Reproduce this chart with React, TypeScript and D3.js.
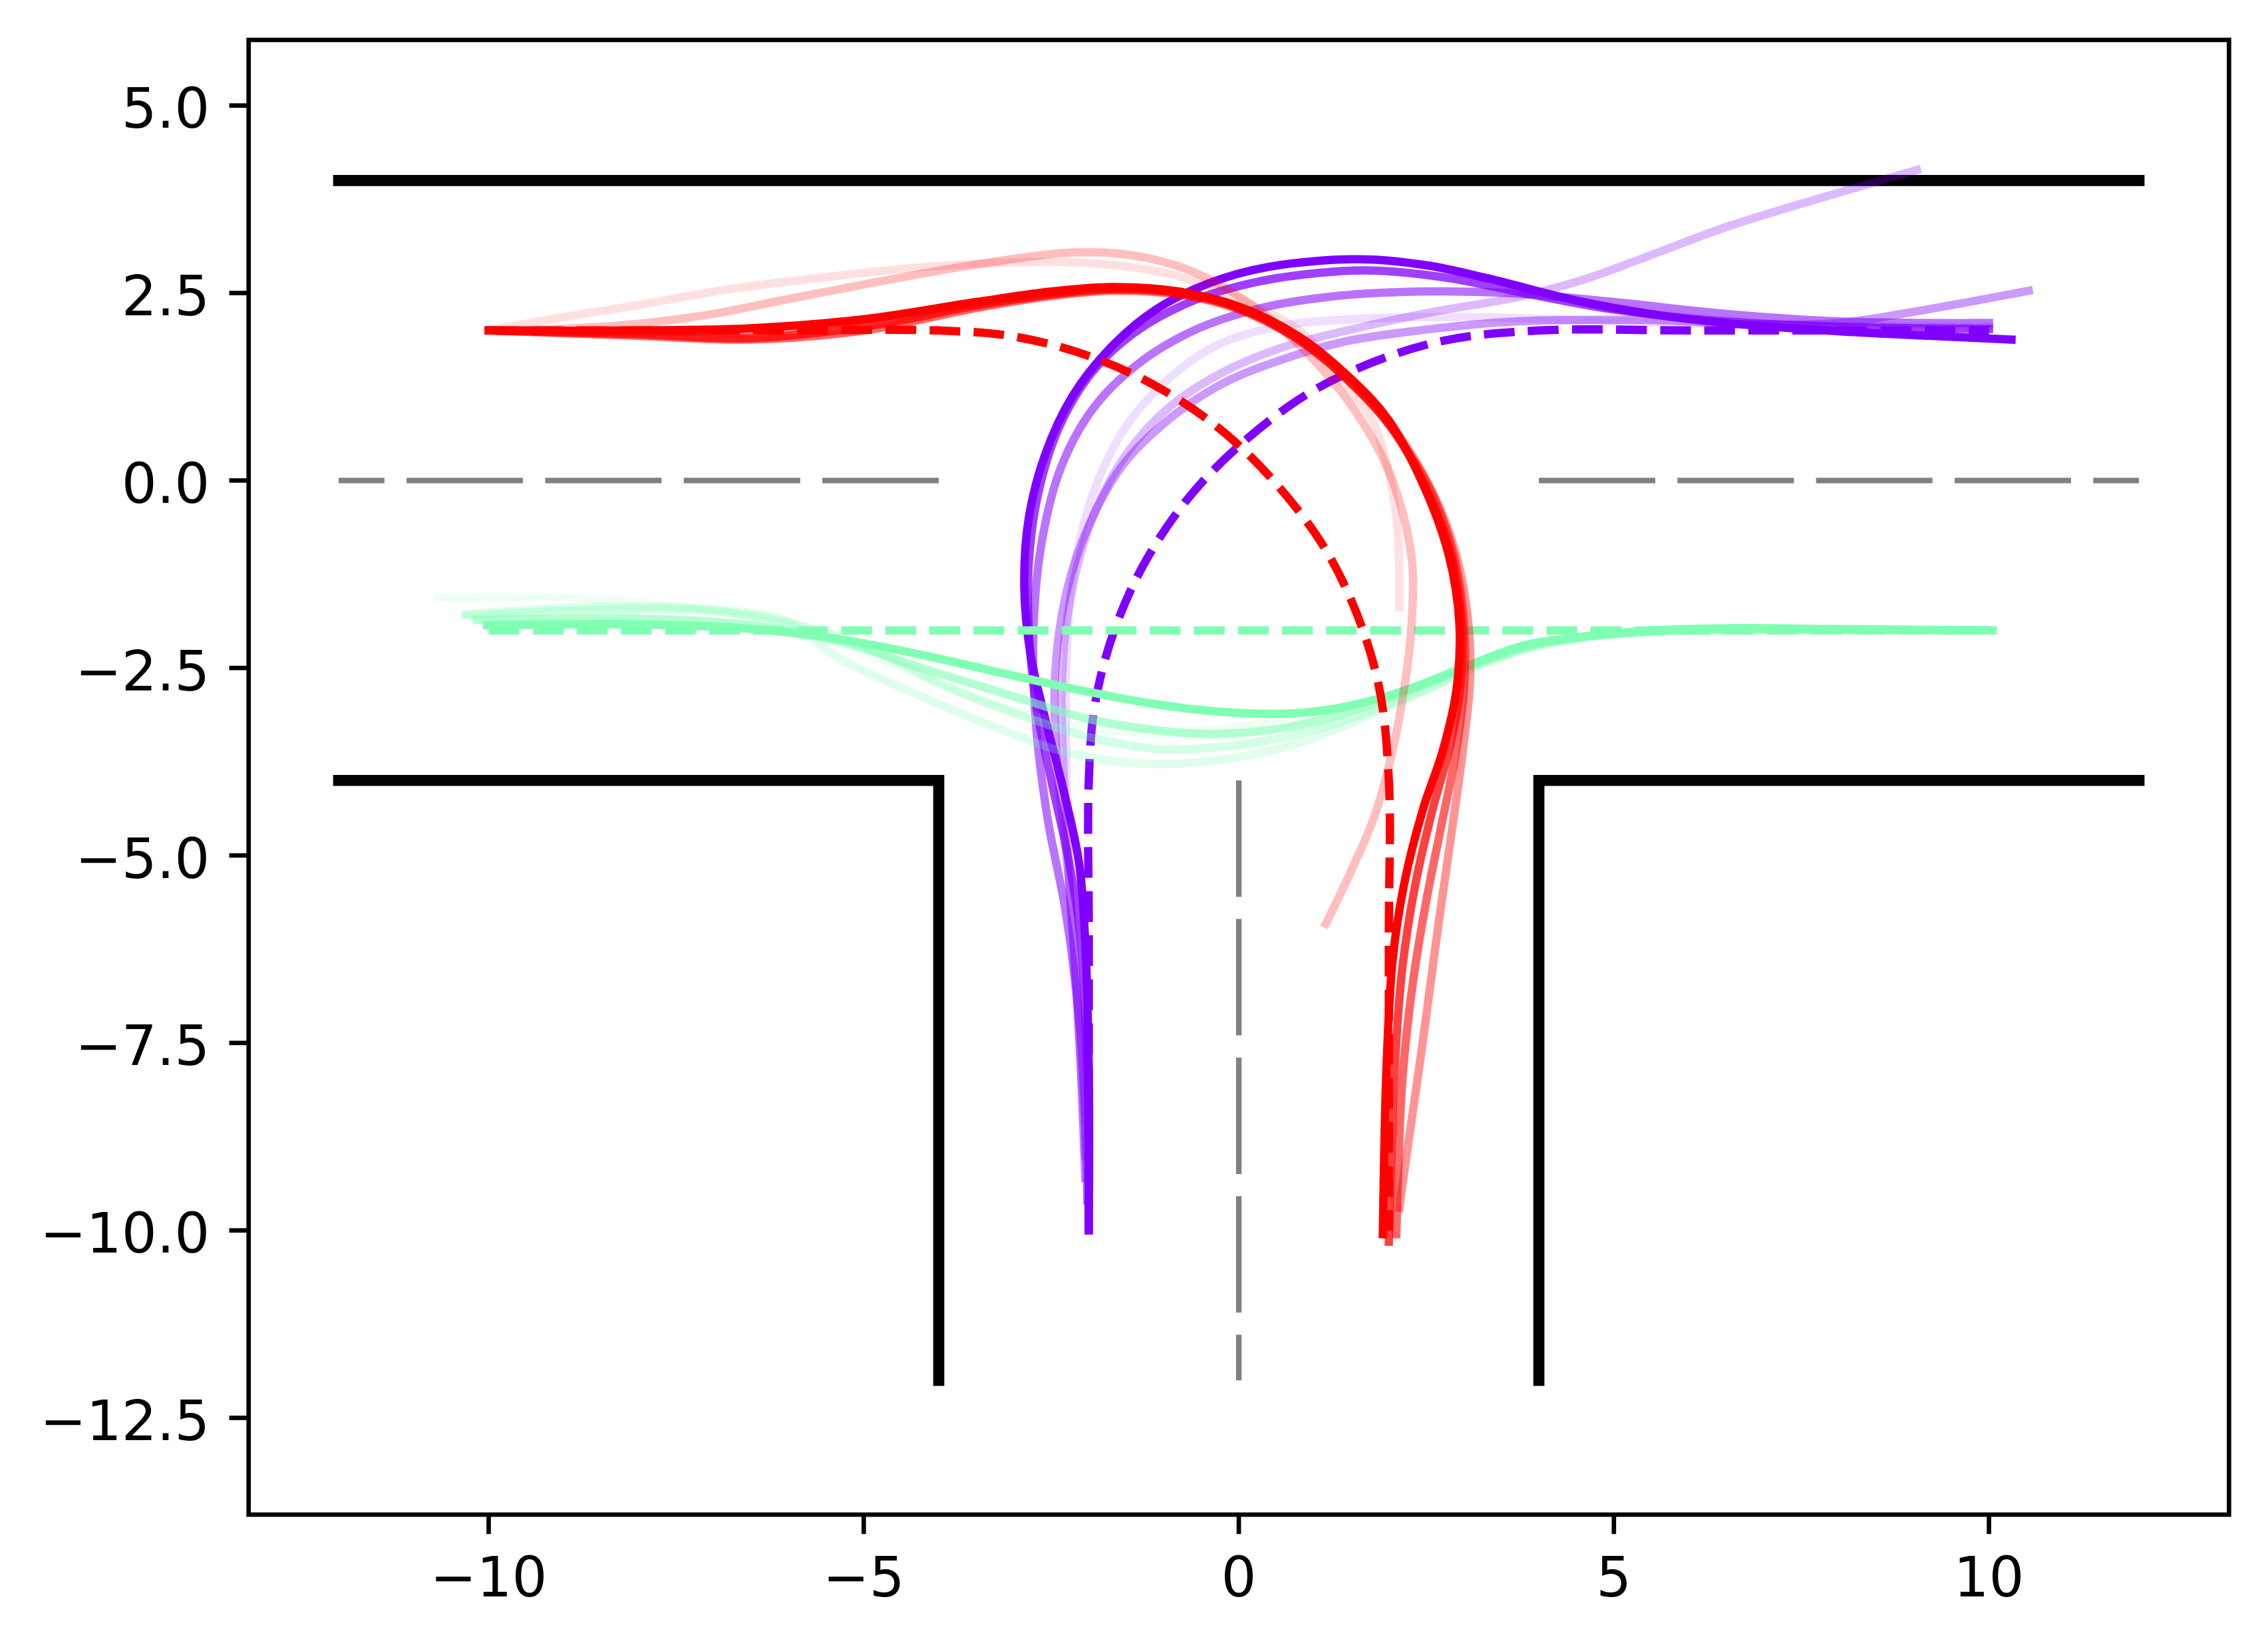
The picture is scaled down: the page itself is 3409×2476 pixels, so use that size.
import React from 'react'
import * as d3 from 'd3'

type Pt = [number, number]

// axis ticks
const xTicks = [-10, -5, 0, 5, 10]
const xTickLabels = ['−10', '−5', '0', '5', '10']
const yTicks = [5, 2.5, 0, -2.5, -5, -7.5, -10, -12.5]
const yTickLabels = ['5.0', '2.5', '0.0', '−2.5', '−5.0', '−7.5', '−10.0', '−12.5']

// road edges (T junction)
const walls: Pt[][] = [
  [[-12, 4], [12, 4]],
  [[-12, -4], [-4, -4], [-4, -12]],
  [[12, -4], [4, -4], [4, -12]],
]

// centre lines, drawn from the junction outwards
const centreLines: Pt[][] = [
  [[-4, 0], [-12, 0]],
  [[4, 0], [12, 0]],
  [[0, -4], [0, -12]],
]

// reference routes (dashed)
const purpleRef: Pt[] = [[-2, -10], [-2, -8], [-2, -6], [-2, -4], [-1.92, -3], [-1.66, -2], [-1.2, -1], [-0.47, 0], [0.68, 1], [1.6, 1.5], [2.71, 1.86], [4, 2], [6, 2], [8, 2], [10, 2]]
const greenRef: Pt[] = [[-10, -2], [10, -2]]
const redRef: Pt[] = [[-10, 2], [-8, 2], [-6, 2], [-4, 2], [-3, 1.92], [-2, 1.66], [-1, 1.2], [0, 0.47], [1, -0.68], [1.5, -1.6], [1.86, -2.71], [2, -4], [2, -6], [2, -8], [2, -10]]

// sampled trajectories, lightest first, executed one last
const purpleRuns: Pt[][] = [
  [[-2.05, -8.5], [-2.2, -6.5], [-2.28, -4.5], [-2.3, -2.5], [-2.2, -1.2], [-1.95, -0.2], [-1.55, 0.65], [-1.0, 1.3], [-0.3, 1.8], [0.5, 2.05], [1.5, 2.15], [3, 2.18], [5, 2.12], [7, 2.07], [10, 2.05]],
  [[-2.05, -9.0], [-2.15, -7], [-2.25, -5.5], [-2.33, -4], [-2.36, -2.7], [-2.25, -1.6], [-1.95, -0.5], [-1.5, 0.35], [-0.9, 1.0], [-0.2, 1.45], [0.6, 1.78], [1.57, 2.03], [2.6, 2.25], [3.69, 2.44], [4.6, 2.68], [5.4, 2.97], [6.5, 3.38], [7.8, 3.78], [9.04, 4.14]],
  [[-2.05, -9.3], [-2.12, -7.5], [-2.25, -5.5], [-2.42, -3.8], [-2.45, -2.6], [-2.3, -1.5], [-2.0, -0.6], [-1.55, 0.2], [-0.95, 0.8], [-0.2, 1.3], [0.6, 1.62], [1.4, 1.85], [2.4, 2.0], [3.69, 2.12], [5.39, 2.14], [7, 2.08], [8, 2.1], [9, 2.25], [10.53, 2.53]],
  [[-2.02, -9.6], [-2.1, -7.5], [-2.3, -5.8], [-2.55, -4.5], [-2.7, -3.3], [-2.74, -2.1], [-2.64, -0.9], [-2.38, 0.15], [-1.95, 0.95], [-1.35, 1.55], [-0.6, 2.0], [0.3, 2.3], [1.3, 2.46], [2.4, 2.52], [3.6, 2.5], [5, 2.38], [6.5, 2.22], [8, 2.12], [10, 2.1]],
  [[-2, -10], [-2.02, -7.8], [-2.12, -6], [-2.28, -5], [-2.5, -4], [-2.7, -3], [-2.8, -2], [-2.8, -1.1], [-2.68, -0.2], [-2.4, 0.7], [-1.95, 1.45], [-1.35, 2.0], [-0.6, 2.4], [0.3, 2.66], [1.2, 2.78], [1.8, 2.8], [2.8, 2.7], [3.8, 2.5], [5, 2.28], [6.5, 2.12], [8, 2.05], [10, 2.02]],
  [[-2, -10], [-2, -7.9], [-2.05, -6.1], [-2.13, -5.1], [-2.32, -4.2], [-2.6, -3.1], [-2.78, -2.3], [-2.86, -1.4], [-2.8, -0.5], [-2.58, 0.35], [-2.22, 1.12], [-1.72, 1.76], [-1.12, 2.27], [-0.4, 2.63], [0.4, 2.85], [1.6, 2.95], [2.5, 2.87], [3.3, 2.7], [4.5, 2.4], [5.5, 2.22], [6.5, 2.1], [8, 1.99], [9.2, 1.93], [10.3, 1.88]],
]

const greenRuns: Pt[][] = [
  [[-10.68, -1.56], [-9, -1.56], [-8.19, -1.61], [-6.49, -1.82], [-5.5, -2.1], [-4.5, -2.5], [-3.5, -2.9], [-2.5, -3.2], [-1.5, -3.35], [-0.5, -3.35], [0.5, -3.2], [1.5, -3.0], [2.5, -2.72], [3.3, -2.42], [4, -2.2], [5, -2.05], [6.5, -2.0], [8, -2.0], [10, -2.0]],
  [[-10.3, -1.78], [-8.5, -1.68], [-7, -1.72], [-6, -1.88], [-5.36, -2.35], [-4.23, -2.88], [-3.1, -3.35], [-2.2, -3.65], [-1.2, -3.78], [-0.2, -3.72], [0.8, -3.5], [1.7, -3.15], [2.5, -2.8], [3.3, -2.43], [4, -2.2], [5, -2.05], [6.5, -2.0], [8, -2.0], [10, -2.0]],
  [[-10.3, -1.8], [-8.5, -1.72], [-7, -1.74], [-6, -1.9], [-5.0, -2.2], [-4.0, -2.7], [-3.0, -3.1], [-2, -3.42], [-1.09, -3.58], [-0.2, -3.55], [0.8, -3.38], [1.7, -3.1], [2.5, -2.78], [3.3, -2.42], [4, -2.2], [4.8, -2.07], [6, -2.0], [8, -1.99], [10, -2.0]],
  [[-10.16, -1.86], [-8, -1.84], [-6.5, -1.93], [-5.3, -2.15], [-4.23, -2.5], [-3, -2.88], [-2, -3.18], [-1, -3.34], [-0.3, -3.38], [0.6, -3.3], [1.5, -3.08], [2.4, -2.75], [3.2, -2.43], [3.9, -2.2], [4.7, -2.07], [6, -1.99], [8, -1.99], [10, -2.0]],
  [[-10.02, -1.93], [-8, -1.92], [-6.5, -1.98], [-5.3, -2.12], [-4.2, -2.33], [-3.1, -2.58], [-2.1, -2.8], [-1, -3.0], [0, -3.1], [0.8, -3.1], [1.5, -3.0], [2.3, -2.77], [3.1, -2.45], [3.8, -2.2], [4.6, -2.08], [5.5, -2.0], [6.5, -1.97], [7.9, -1.98], [10.05, -2.0]],
]

const redRuns: Pt[][] = [
  [[-10, 2], [-9, 2.18], [-8, 2.34], [-6.8, 2.55], [-5.6, 2.7], [-4.4, 2.83], [-3.27, 2.9], [-2.0, 2.9], [-0.9, 2.75], [0, 2.42], [0.87, 1.95], [1.4, 1.3], [1.77, 0.82], [2.0, 0.1], [2.12, -0.7], [2.14, -1.69]],
  [[-10, 2], [-8.5, 2.05], [-7.2, 2.19], [-6, 2.42], [-4.86, 2.64], [-3.5, 2.88], [-2.2, 3.04], [-1.4, 3.0], [-0.6, 2.78], [0.2, 2.32], [1.1, 1.5], [1.7, 0.7], [2.05, 0.0], [2.3, -1.0], [2.31, -1.8], [2.23, -2.6], [2.05, -3.6], [1.8, -4.5], [1.5, -5.2], [1.16, -5.91]],
  [[-10, 2], [-8, 1.98], [-6.5, 2.0], [-5, 2.12], [-3.5, 2.36], [-2.5, 2.5], [-1.7, 2.56], [-0.8, 2.5], [0, 2.3], [0.8, 1.9], [1.5, 1.34], [2.05, 0.72], [2.58, -0.15], [2.9, -1.0], [3.06, -1.9], [3.08, -2.7], [3.0, -3.5], [2.85, -4.6], [2.65, -6.0], [2.45, -7.5], [2.25, -8.9], [2.14, -9.7]],
  [[-10, 2], [-8, 1.93], [-6.5, 1.88], [-5, 2.0], [-3.5, 2.3], [-2.5, 2.46], [-1.7, 2.53], [-0.8, 2.48], [0, 2.28], [0.8, 1.87], [1.5, 1.29], [2.02, 0.72], [2.55, -0.12], [2.86, -0.98], [3.0, -1.9], [3.0, -2.8], [2.88, -3.7], [2.7, -4.6], [2.5, -5.6], [2.32, -6.7], [2.18, -8], [2.1, -10.05]],
  [[-10, 2], [-8, 1.95], [-6.5, 1.9], [-5, 2.05], [-3.5, 2.33], [-2.5, 2.48], [-1.7, 2.55], [-0.8, 2.5], [0, 2.3], [0.8, 1.88], [1.5, 1.3], [2.0, 0.75], [2.52, -0.15], [2.83, -1.0], [2.97, -1.9], [2.95, -2.8], [2.8, -3.6], [2.58, -4.4], [2.35, -5.4], [2.18, -6.5], [2.08, -7.8], [2.0, -10.15]],
  [[-10, 2], [-8, 2.0], [-6.5, 2.03], [-5, 2.15], [-3.5, 2.38], [-2.5, 2.52], [-1.7, 2.58], [-0.8, 2.52], [0, 2.32], [0.8, 1.92], [1.5, 1.35], [2.0, 0.8], [2.5, -0.15], [2.8, -1.0], [2.94, -1.9], [2.9, -2.8], [2.72, -3.6], [2.45, -4.4], [2.2, -5.4], [2.05, -6.4], [1.97, -7.8], [1.92, -10.05]],
]

const agents = [
  { ref: purpleRef, runs: purpleRuns },
  { ref: greenRef, runs: greenRuns },
  { ref: redRef, runs: redRuns },
]

// styles
const agentColors = ['#8000ff', '#80ffb4', '#ff0000']
const purpleAlpha = [0.13, 0.27, 0.4, 0.55, 0.75, 1]
const greenAlpha = [0.12, 0.25, 0.35, 0.6, 1]
const redAlpha = [0.12, 0.25, 0.42, 0.6, 0.75, 1]
const runAlphas = [purpleAlpha, greenAlpha, redAlpha]

export default function App() {
  const width = 3409,
    height = 2476,
    left = 373.7,
    right = 3350.4,
    top = 60,
    bottom = 2277

  const x = d3.scaleLinear().domain([-13.2, 13.2]).range([left, right])
  const y = d3.scaleLinear().domain([-13.79, 5.875]).range([bottom, top])

  const straight = d3.line<Pt>().x(d => x(d[0])).y(d => y(d[1]))
  const smooth = d3.line<Pt>().x(d => x(d[0])).y(d => y(d[1])).curve(d3.curveCatmullRom.alpha(0.5))

  const pt = 600 / 72 // px per point
  const tickLen = 3.5 * pt
  const fontSize = 10 * pt

  return (
    <div>
      <style>{'body{margin:0}'}</style>
      <svg width={width} height={height} style={{ display: 'block', background: '#fff' }}>
        <rect x={0} y={0} width={width} height={height} fill='#fff' />

        {walls.map((w, i) => (
          <path key={'w' + i} d={straight(w) || ''} fill='none' stroke='#000' strokeWidth={2 * pt} strokeLinecap='square' strokeLinejoin='miter' />
        ))}
        {centreLines.map((c, i) => (
          <path key={'c' + i} d={straight(c) || ''} fill='none' stroke='#808080' strokeWidth={1 * pt} strokeDasharray='175 33.3' />
        ))}

        {agents.map((a, k) => (
          <g key={'a' + k}>
            <path d={smooth(a.ref) || ''} fill='none' stroke={agentColors[k]} strokeWidth={1.5 * pt} strokeDasharray={`${3.7 * 1.5 * pt} ${1.6 * 1.5 * pt}`} />
            {a.runs.map((r, j) => (
              <path key={j} d={smooth(r) || ''} fill='none' stroke={agentColors[k]} strokeOpacity={runAlphas[k][j]} strokeWidth={1.5 * pt} strokeLinecap='square' strokeLinejoin='round' />
            ))}
          </g>
        ))}

        <rect x={left} y={top} width={right - left} height={bottom - top} fill='none' stroke='#000' strokeWidth={0.8 * pt} />

        <g fontFamily='DejaVu Sans' fontSize={fontSize} fill='#000'>
          {xTicks.map((t, i) => (
            <g key={'x' + i}>
              <line x1={x(t)} x2={x(t)} y1={bottom} y2={bottom + tickLen} stroke='#000' strokeWidth={0.8 * pt} />
              <text x={x(t)} y={2400} textAnchor='middle'>{xTickLabels[i]}</text>
            </g>
          ))}
          {yTicks.map((t, i) => (
            <g key={'y' + i}>
              <line x1={left} x2={left - tickLen} y1={y(t)} y2={y(t)} stroke='#000' strokeWidth={0.8 * pt} />
              <text x={left - 2 * tickLen} y={y(t) + 33.5} textAnchor='end'>{yTickLabels[i]}</text>
            </g>
          ))}
        </g>
      </svg>
    </div>
  )
}
